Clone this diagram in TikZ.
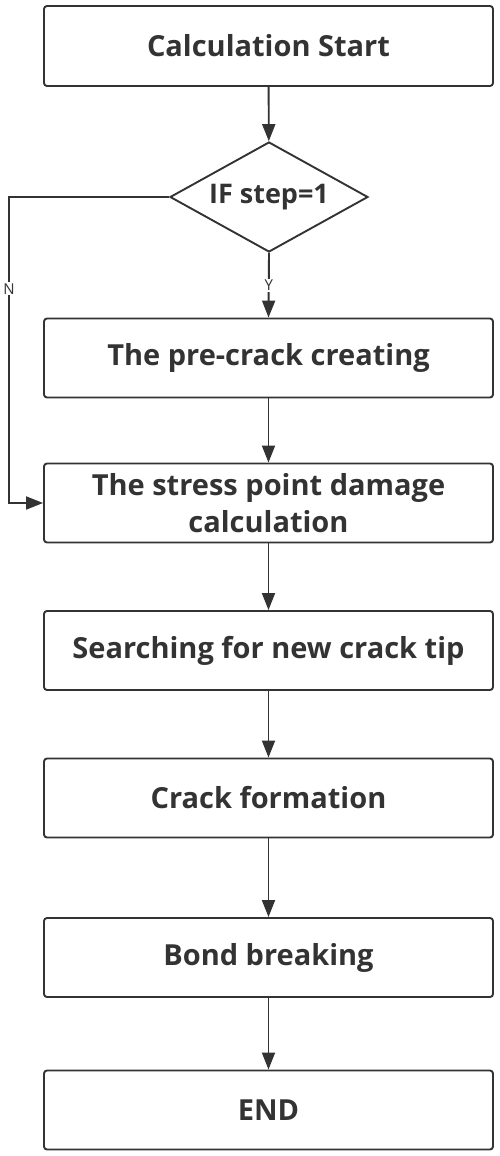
\documentclass[tikz,border=0pt]{standalone}
\usepackage{fontspec}
\setmainfont{Open Sans}
\usetikzlibrary{shapes.geometric,arrows.meta}
\definecolor{ink}{HTML}{333333}
\tikzset{
  box/.style={draw=ink, line width=1.9pt, rounded corners=3pt, minimum width=449pt,
    minimum height=79pt, inner sep=0pt, text=ink, font=\bfseries\fontsize{29}{37}\selectfont,
    align=center},
  dec/.style={draw=ink, line width=1.9pt, shape=diamond, aspect=1.8, minimum width=198pt,
    minimum height=110pt, inner sep=0pt, text=ink, font=\bfseries\fontsize{27}{30}\selectfont},
  conn/.style={draw=ink, line width=1.9pt, -{Triangle[length=17pt,width=13pt]}},
  lbl/.style={fill=white, text=ink, inner sep=1pt, font=\fontsize{15}{16}\selectfont}
}
\begin{document}
\begin{tikzpicture}[x=1pt,y=-1pt]
\useasboundingbox (0,0) rectangle (500,1156);
\node[box, minimum height=80pt] (start) at (268.5,46) {Calculation Start};
\node[dec] (if) at (269,197) {IF step=1};
\node[box] (pre) at (268.5,358) {The pre-crack creating};
\node[box] (dmg) at (268.5,503) {The stress point damage\\calculation};
\node[box] (search) at (268.5,650.5) {Searching for new crack tip};
\node[box] (form) at (268.5,798) {Crack formation};
\node[box] (bond) at (268.5,957.5) {Bond breaking};
\node[box] (end) at (268.5,1110) {END};
\coordinate (nl) at (9,197);
\coordinate (nb) at (9,503);
\draw[conn] (start) -- (if);
\draw[conn] (if.south) -- node[lbl, pos=0.5] {Y} (pre.north);
\draw[conn] (pre) -- (dmg);
\draw[conn] (if.west) -- (nl) -- node[lbl, pos=0.3] {N} (nb) -- (dmg.west);
\draw[conn] (dmg) -- (search);
\draw[conn] (search) -- (form);
\draw[conn] (form) -- (bond);
\draw[conn] (bond) -- (end);
\end{tikzpicture}
\end{document}
